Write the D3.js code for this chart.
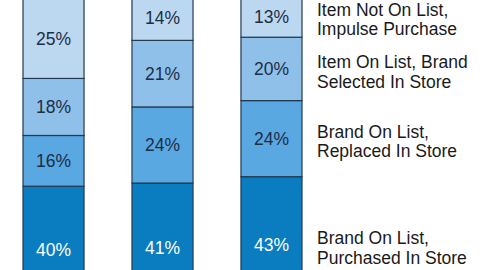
<!DOCTYPE html>
<html>
<head>
<meta charset="utf-8">
<script src="https://cdn.jsdelivr.net/npm/d3@7/dist/d3.min.js"></script>
<style>
  html, body { margin: 0; padding: 0; background: #fff; }
  svg { display: block; font-family: "Liberation Sans", Arial, sans-serif; }
</style>
</head>
<body>
<svg id="chart" width="480" height="270"></svg>
<script>
const categories = ["Bar 1", "Bar 2", "Bar 3"];
const seriesNames = [
  "Brand On List, Purchased In Store",
  "Brand On List, Replaced In Store",
  "Item On List, Brand Selected In Store",
  "Item Not On List, Impulse Purchase"
];
const legendLines = [
  ["Brand On List,", "Purchased In Store"],
  ["Brand On List,", "Replaced In Store"],
  ["Item On List, Brand", "Selected In Store"],
  ["Item Not On List,", "Impulse Purchase"]
];
const purchasedInStore = [40, 41, 43];
const replacedInStore = [16, 24, 24];
const selectedInStore = [18, 21, 20];
const impulsePurchase = [25, 14, 13];
const colors = ["#0a7cc0", "#5aa8e2", "#8ec0ea", "#bcd8f1"];
const textColors = ["#ffffff", "#1c2e45", "#1c2e45", "#1c2e45"];

const series = [purchasedInStore, replacedInStore, selectedInStore, impulsePurchase];
const table = categories.map((c, i) => {
  const row = { cat: c };
  seriesNames.forEach((s, j) => row[s] = series[j][i]);
  return row;
});
const stacked = d3.stack().keys(seriesNames)(table);

const svg = d3.select("#chart");
const x = d3.scaleBand().domain(categories).range([23, 302]).paddingInner(0.44).paddingOuter(0);
const y = d3.scaleLinear().domain([0, 100]).range([313, -4]);

const layers = svg.selectAll("g.layer").data(stacked).join("g").attr("class", "layer");
layers.selectAll("rect").data((d, j) => d.map(p => ({ p, j }))).join("rect")
  .attr("x", d => x(d.p.data.cat))
  .attr("width", x.bandwidth())
  .attr("y", d => y(d.p[1]))
  .attr("height", d => y(d.p[0]) - y(d.p[1]))
  .attr("fill", d => colors[d.j])
  .attr("stroke", "#243a52")
  .attr("stroke-width", 1.2);

layers.selectAll("text").data((d, j) => d.map(p => ({ p, j }))).join("text")
  .attr("x", d => x(d.p.data.cat) + x.bandwidth() / 2)
  .attr("y", d => (y(d.p[0]) + y(d.p[1])) / 2)
  .attr("dy", "0.36em")
  .attr("text-anchor", "middle")
  .attr("font-size", 17.5)
  .attr("fill", d => textColors[d.j])
  .text(d => (d.p[1] - d.p[0]) + "%");

// legend aligned with last bar's segments
const last = categories[categories.length - 1];
const lg = svg.append("g");
stacked.forEach((s, j) => {
  const p = s.find(q => q.data.cat === last);
  const cy = (y(p[0]) + y(p[1])) / 2;
  const t = lg.append("text")
    .attr("x", 317)
    .attr("y", cy - 7)
    .attr("font-size", 17.5)
    .attr("fill", "#1a1a1a");
  legendLines[j].forEach((line, k) => {
    t.append("tspan").attr("x", 317).attr("dy", k === 0 ? "0.36em" : 19.5).text(line);
  });
});
</script>
</body>
</html>
